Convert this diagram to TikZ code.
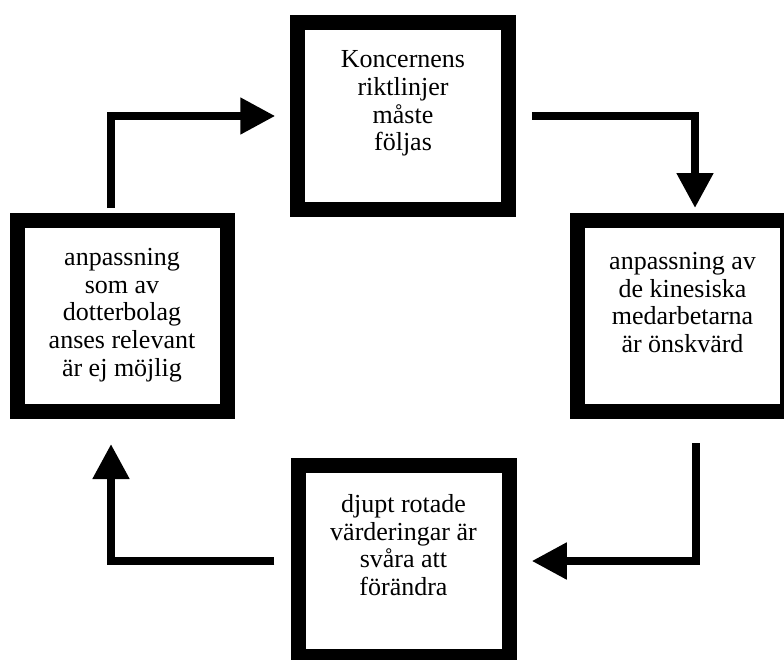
\documentclass[tikz,border=0pt]{standalone}
\usepackage{fontspec}
\setmainfont{Liberation Serif}
\usetikzlibrary{arrows.meta,calc}
\begin{document}
\begin{tikzpicture}[x=1pt,y=-1pt,
  box/.style={draw=black,line width=15pt,fill=white,minimum width=210.5pt,minimum height=191pt,inner sep=0pt},
  boxtext/.style={align=center,font=\fontsize{26}{27.7}\selectfont,inner sep=0pt},
  flow/.style={line width=8pt,-{Triangle[length=35pt,width=35pt]}}]
  \clip (0,0) rectangle (784,659);
  % the four stages of the cycle
  \node[box,minimum height=187pt] (top) at (403,116) {};
  \node[box] (left) at (122.5,316) {};
  \node[box] (right) at (682.5,316) {};
  \node[box] (bottom) at (404,561) {};
  \node[boxtext] (toptext) at (403,103.5) {Koncernens\\riktlinjer\\måste\\följas};
  \node[boxtext] (lefttext) at (122,315) {anpassning\\som av\\dotterbolag\\anses relevant\\är ej möjlig};
  \node[boxtext] (righttext) at (682.5,302.5) {anpassning av\\de kinesiska\\medarbetarna\\är önskvärd};
  \node[boxtext] (bottomtext) at (403.5,545) {djupt rotade\\värderingar är\\svåra att\\förändra};
  % clockwise connectors
  \draw[flow] ([xshift=-11.5pt,yshift=5pt]left.north) |- ([xshift=-15pt]top.west);
  \draw[flow] ([xshift=16pt]top.east) -| ([xshift=12.5pt,yshift=5pt]right.north);
  \draw[flow] ([xshift=13pt,yshift=-24pt]right.south) |- ([xshift=15pt]bottom.east);
  \draw[flow] ([xshift=-17pt]bottom.west) -| ([xshift=-11.5pt,yshift=-25pt]left.south);
\end{tikzpicture}
\end{document}
